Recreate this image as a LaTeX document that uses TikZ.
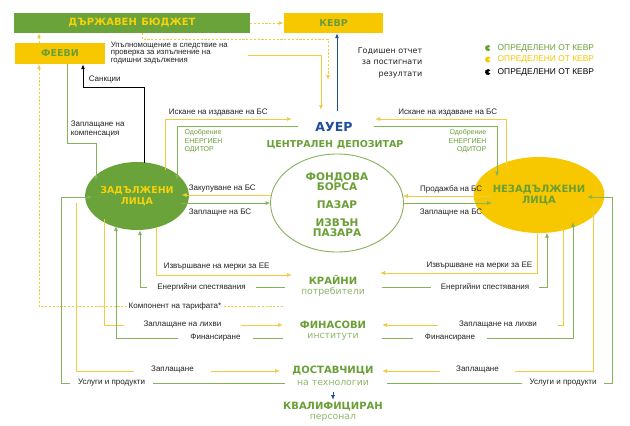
\documentclass[tikz,border=0pt]{standalone}
\usepackage{fontspec}
\setmainfont{Liberation Sans}
\newfontfamily\dvs{DejaVu Sans}
\usetikzlibrary{arrows.meta,shapes.geometric}
\definecolor{gBox}{HTML}{6AA33A}
\definecolor{yBox}{HTML}{F7C700}
\definecolor{gTxt}{HTML}{6A9F36}
\definecolor{gSub}{HTML}{8DB86A}
\definecolor{lnG}{HTML}{86B25A}
\definecolor{lnY}{HTML}{F2CB3E}
\definecolor{bl}{HTML}{1F4E9A}
\definecolor{txt}{HTML}{222222}
\definecolor{yTxt}{HTML}{F5D20A}
\newcommand\lblf{\fontsize{8}{9.5}\selectfont}
\newcommand\hdf{\dvs\bfseries}
\begin{document}
\begin{tikzpicture}[x=1pt,y=-1pt,
  lbl/.style={font=\lblf, text=txt, inner sep=0.6pt},
  wl/.style={lbl, fill=white, inner ysep=1.5pt},
  ln/.style={line width=0.9pt},
  yln/.style={ln, draw=lnY},
  gln/.style={ln, draw=lnG},
  bln/.style={ln, draw=bl},
  blk/.style={ln, draw=black},
  dln/.style={yln, dash pattern=on 2.2pt off 1.6pt},
  arr/.style={-{Latex[length=5pt,width=4pt]}},
  hd/.style={font=\hdf\fontsize{10}{10.5}\selectfont, text=gTxt, inner sep=0.5pt, align=center},
  sub/.style={font=\dvs\fontsize{9.3}{10}\selectfont, text=gSub, inner sep=0.5pt},
  odo/.style={font=\fontsize{7}{8.5}\selectfont, text=gTxt, inner sep=0.5pt},
  leg/.style={font=\fontsize{8.4}{10}\selectfont, inner sep=0.5pt, anchor=west}
]
\useasboundingbox[fill=white] (0,0) rectangle (630,426);

% ---------- boxes ----------
\node[fill=gBox, minimum width=236pt, minimum height=20pt, inner sep=0, text=yTxt,
      font=\hdf\fontsize{10}{12}\selectfont] (bud) at (132,23) {ДЪРЖАВЕН\hspace{0.45em}БЮДЖЕТ};
\node[fill=yBox, minimum width=99pt, minimum height=20pt, inner sep=0, text=gTxt,
      font=\hdf\fontsize{9.5}{12}\selectfont] (kevr) at (333.5,23) {КЕВР};
\node[fill=yBox, minimum width=90pt, minimum height=21pt, inner sep=0, text=gTxt,
      font=\hdf\fontsize{9.5}{12}\selectfont] (feevi) at (60,53.5) {ФЕЕВИ};

% ---------- ellipses ----------
\node[ellipse, fill=gBox, minimum width=89pt, minimum height=68pt, inner sep=0, align=center,
      text=yTxt, font=\hdf\fontsize{9.5}{10.5}\selectfont] (zl) at (137,196) {ЗАДЪЛЖЕНИ\\ЛИЦА};
\node[ellipse, fill=yBox, minimum width=96pt, minimum height=76pt, inner sep=0, align=center,
      text=gTxt, font=\hdf\fontsize{10}{10.5}\selectfont] (nz) at (539,195) {НЕЗАДЪЛЖЕНИ\\ЛИЦА};
\node[ellipse, draw=lnG, line width=0.9pt, minimum width=133pt, minimum height=98pt, inner sep=0] (fb) at (337,203) {};
\node[hd, font=\hdf\fontsize{10.5}{10}\selectfont] (fb1) at (337,182) {ФОНДОВА\\БОРСА};
\node[hd, font=\hdf\fontsize{10.5}{10}\selectfont] (fb2) at (337,205) {ПАЗАР};
\node[hd, font=\hdf\fontsize{10.5}{10}\selectfont] (fb3) at (337,228) {ИЗВЪН\\ПАЗАРА};

% ---------- AUER ----------
\node[font=\hdf\fontsize{12.5}{13}\selectfont, text=bl, inner sep=0.5pt] (auer) at (334,127) {АУЕР};
\node[hd, font=\hdf\fontsize{9.5}{10}\selectfont] (cd) at (335,145) {ЦЕНТРАЛЕН\hspace{0.4em}ДЕПОЗИТАР};

% ---------- bottom centre ----------
\node[hd] (kr) at (333,280) {КРАЙНИ};
\node[sub] (krs) at (333,292) {потребители};
\node[hd] (fi) at (333,325) {ФИНАСОВИ};
\node[sub] (fis) at (333,337) {институти};
\node[hd] (do) at (333,371) {ДОСТАВЧИЦИ};
\node[sub] (dos) at (333,383) {на технологии};
\node[hd] (kv) at (333,407) {КВАЛИФИЦИРАН};
\node[sub] (kvs) at (333,418) {персонал};

% ---------- ports ----------
\coordinate (aL1) at (292,119);
\coordinate (aL2) at (298,126);
\coordinate (aR1) at (375,119);
\coordinate (aR2) at (374,126);
\coordinate (aT) at (337,111);
\coordinate (aTy) at (321,110);
\coordinate (upS) at (248,55);
\coordinate (dEnd) at (328,80);
\coordinate (zlT1) at (144,162.5);
\coordinate (zlT2) at (96,181);
\coordinate (zlT3) at (165,169.6);
\coordinate (zlT4) at (177,180);
\coordinate (zlR1) at (181.5,195);
\coordinate (zlR2) at (180.5,203);
\coordinate (zlL) at (92.5,197);
\coordinate (zlB1) at (156,226.7);
\coordinate (zlB2) at (140,230);
\coordinate (zlB3) at (104,218.8);
\coordinate (zlB4) at (116,226);
\coordinate (yS1) at (76,203);
\coordinate (fbL1) at (271.4,195);
\coordinate (fbL2) at (270.5,203);
\coordinate (fbR1) at (402.8,196);
\coordinate (fbR2) at (403.5,203);
\coordinate (nzL1) at (491,196);
\coordinate (nzL2) at (492.1,203);
\coordinate (nzT1) at (506,167.4);
\coordinate (nzT2) at (497,176.6);
\coordinate (nzB1) at (537,233);
\coordinate (nzB2) at (547,232.5);
\coordinate (nzB3) at (563,227.9);
\coordinate (nzB4) at (573,221.8);
\coordinate (nzR) at (587,197);
\coordinate (yS2) at (593,205);
\coordinate (krL1) at (292,275);
\coordinate (krL2) at (285,287);
\coordinate (krK) at (283,306);
\coordinate (krR1) at (380,273);
\coordinate (krR2) at (382,287);
\coordinate (fiL1) at (283,325);
\coordinate (fiL2) at (283,338);
\coordinate (fiR1) at (382,325);
\coordinate (fiR2) at (382,338);
\coordinate (doL1) at (280,371);
\coordinate (doL2) at (285,383);
\coordinate (doR1) at (382,371);
\coordinate (doR2) at (387,383);
\coordinate (doS) at (333,392);
\coordinate (kvN) at (333,400);

% ---------- top connectors ----------
\draw[dln,arr] (bud.east) -- (kevr.west);
\draw[dln,arr] ([xshift=10pt]bud.south) -- ++(0,6) -| (dEnd);
\draw[dln,arr] ([xshift=-21pt]feevi.north) -- ([xshift=-93pt]bud.south);
\draw[dln,arr] (krK) -| ([xshift=-21pt]feevi.south);
\draw[blk,arr] (zlT1) |- ([xshift=23pt]feevi.south |- 0,87) -- ([xshift=23pt]feevi.south);
\draw[gln,arr] ([xshift=7pt]feevi.south) |- (96,143) -- (zlT2);
\draw[yln,arr] (upS) -| (aTy);
\draw[bln,arr] (aT) -- ([xshift=3.5pt]kevr.south);

% ---------- AUER connectors ----------
\draw[yln,arr] (zlT3) |- (aL1);
\draw[gln,arr] (aL2) -| (zlT4);
\draw[yln,arr] (nzT1) |- (aR1);
\draw[gln,arr] (aR2) -| (nzT2);

% ---------- exchange ----------
\draw[yln,arr] (fbL1) -- (zlR1);
\draw[gln,arr] (zlR2) -- (fbL2);
\draw[yln,arr] (nzL1) -- (fbR1);
\draw[gln,arr] (fbR2) -- (nzL2);

% ---------- bottom left ----------
\draw[yln,arr] (zlB1) |- (krL1);
\draw[gln,arr] (krL2) -| (zlB2);
\draw[yln,arr] (zlB3) |- (fiL1);
\draw[gln,arr] (fiL2) -| (zlB4);
\draw[yln,arr] (yS1) |- (doL1);
\draw[gln,arr] (doL2) -| (61,197) -- (zlL);

% ---------- bottom right ----------
\draw[yln,arr] (nzB1) |- (krR1);
\draw[gln,arr] (krR2) -| (nzB2);
\draw[yln,arr] (nzB3) |- (fiR1);
\draw[gln,arr] (fiR2) -| (nzB4);
\draw[yln,arr] (yS2) |- (doR1);
\draw[gln,arr] (doR2) -| (612,197) -- (nzR);

\draw[bln,arr] (doS) -- (kvN);

% ---------- labels ----------
\node[lbl, anchor=west, align=left, font=\fontsize{7.8}{7.8}\selectfont] (l1) at (110,53) {Упълномощение в следствие на\\проверка за изпълнение на\\годишни задължения};
\node[lbl, anchor=west] (l2) at (88,80) {Санкции};
\node[lbl, anchor=west, align=left, font=\fontsize{8}{9}\selectfont] (l3) at (70,129.5) {Заплащане на\\компенсация};
\node[lbl, anchor=east, align=right, font=\dvs\fontsize{8}{11.5}\selectfont] (l4) at (423,62.5) {Годишен отчет\\за постигнати\\резултати};

\node[lbl, anchor=west] at (168,113) {Искане на издаване на БС};
\node[lbl, anchor=east] at (498,113) {Искане на издаване на БС};
\node[odo, anchor=west, align=left] at (184,141.5) {Одобрение\\ЕНЕРГИЕН\\ОДИТОР};
\node[odo, anchor=east, align=right] at (487,141.5) {Одобрение\\ЕНЕРГИЕН\\ОДИТОР};
\node[lbl, anchor=west] at (188,189) {Закупуване на БС};
\node[lbl, anchor=west] at (188,213) {Заплащне на БС};
\node[lbl, anchor=east] at (483,189) {Продажба на БС};
\node[lbl, anchor=east] at (483,213) {Заплащне на БС};

\node[lbl, anchor=west] at (163,267) {Извършване на мерки за ЕЕ};
\node[wl, inner xsep=10pt] at (201.5,287) {Енергийни спестявания};
\node[wl, inner xsep=3pt] at (175,306) {Компонент на тарифата*};
\node[wl, inner xsep=20pt] at (182.5,324.5) {Заплащане на лихви};
\node[wl, inner xsep=12pt] at (215.5,338) {Финансиране};
\node[wl, inner xsep=17pt] at (172.5,370) {Заплащане};
\node[wl, inner xsep=8pt] at (111.5,383) {Услуги и продукти};

\node[lbl, anchor=east] at (533,266) {Извършване на мерки за ЕЕ};
\node[wl, inner xsep=10pt] at (485,287) {Енергийни спестявания};
\node[wl, inner xsep=21pt] at (498,324.5) {Заплащане на лихви};
\node[wl, inner xsep=12pt] at (450,338) {Финансиране};
\node[wl, inner xsep=16pt] at (477.5,370) {Заплащане};
\node[wl, inner xsep=8pt] at (563,383) {Услуги и продукти};

% ---------- legend ----------
\foreach \yy/\cc [count=\i] in {48/gTxt, 59.5/yBox, 72/black}{
  \fill[\cc] (488,\yy) -- +(35:3) arc[start angle=35, end angle=325, radius=3] -- cycle;
  \node[leg, text=\cc] (leg\i) at (497,\yy) {ОПРЕДЕЛЕНИ ОТ КЕВР};
}
\end{tikzpicture}
\end{document}
